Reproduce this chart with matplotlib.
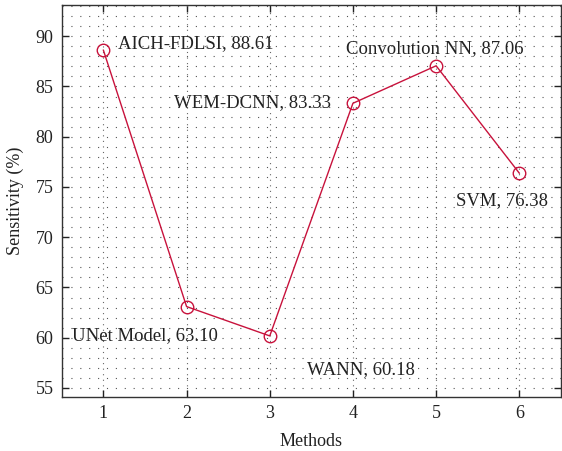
import matplotlib
matplotlib.use("Agg")
import matplotlib.pyplot as plt
from matplotlib.ticker import MultipleLocator

plt.rcParams['font.family'] = ['Liberation Serif', 'DejaVu Serif']

methods = [1, 2, 3, 4, 5, 6]
sensitivity = [88.61, 63.10, 60.18, 83.33, 87.06, 76.38]
names = ["AICH-FDLSI", "UNet Model", "WANN", "WEM-DCNN", "Convolution NN", "SVM"]
label_pos = [(1.17, 89.3), (0.62, 60.2), (3.45, 56.8), (1.85, 83.4), (3.92, 88.8), (5.24, 73.6)]

color = '#C8123C'
fig = plt.figure(figsize=(5.62, 4.51), dpi=100)
ax = fig.add_axes([0.110, 0.1197, 0.888, 0.869])

ax.plot(methods, sensitivity, color=color, lw=1.0, marker='o', markersize=9,
        markerfacecolor='none', markeredgecolor=color, markeredgewidth=1.0, zorder=3)

for n, v, (tx, ty) in zip(names, sensitivity, label_pos):
    ax.text(tx, ty, f"{n}, {v:.2f}", fontsize=13.5, ha='left', va='center', color='#222222')

ax.set_xlim(0.5, 6.5)
ax.set_ylim(54.1, 93.1)
ax.set_xticks(methods)
ax.set_yticks([55, 60, 65, 70, 75, 80, 85, 90])
ax.yaxis.set_minor_locator(MultipleLocator(1))
ax.tick_params(direction='in', which='major', length=5, width=1, labelsize=13,
               top=True, right=True, colors='#222222', pad=6)
ax.tick_params(which='minor', length=0)
ax.grid(True, which='major', axis='x', linestyle=(0, (1, 4)), color='#666666', lw=0.8)
ax.grid(True, which='minor', axis='y', linestyle=(0, (1, 7)), color='#555555', lw=0.8)
ax.grid(True, which='major', axis='y', linestyle=(0, (1, 7)), color='#555555', lw=0.8)
for s in ax.spines.values():
    s.set_color('#333333')
    s.set_linewidth(1.0)

ax.set_xlabel("Methods", fontsize=13, color='#222222', labelpad=8)
ax.set_ylabel("Sensitivity (%)", fontsize=13, color='#222222', labelpad=8)

fig.savefig("out.png", dpi=100)
